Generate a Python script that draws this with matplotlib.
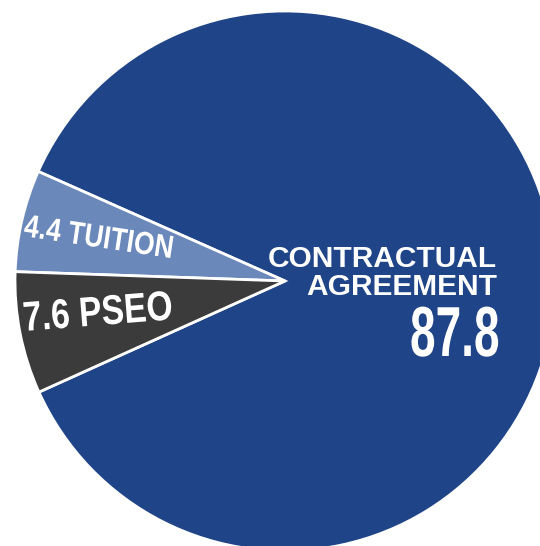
import matplotlib.pyplot as plt
from matplotlib import patheffects
from matplotlib.transforms import Affine2D

# wedge sizes as drawn in the picture (order: clockwise from start angle)
categories = ["CONTRACTUAL\nAGREEMENT", "TUITION", "PSEO"]
wedge_sizes = [86.6, 6.1, 7.3]
label_values = ["87.8", "4.4", "7.6"]
colors = ["#1f4488", "#6a88ba", "#3b3b3b"]


class Squeeze(patheffects.AbstractPathEffect):
    # reshape the glyphs (no condensed font installed)
    def __init__(self, sx, sy=1.0):
        super().__init__()
        self.sx = sx
        self.sy = sy

    def draw_path(self, renderer, gc, tpath, affine, rgbFace=None):
        renderer.draw_path(gc, tpath, Affine2D().scale(self.sx, self.sy) + affine, rgbFace)


fig = plt.figure(figsize=(5.4, 5.46), dpi=100)
ax = fig.add_axes([0, 0, 1, 1])

ax.pie(wedge_sizes, colors=colors, startangle=-204.3, counterclock=False,
       center=(285, 281), radius=270,
       wedgeprops=dict(edgecolor="white", linewidth=2), frame=True)
ax.set_xlim(0, 540)
ax.set_ylim(546, 0)
ax.set_aspect("equal")
ax.axis("off")

font = ["Liberation Sans", "DejaVu Sans"]
line1, line2 = categories[0].split("\n")
ax.text(497, 267, line1, color="white", fontsize=21.5, fontweight="bold",
        family=font, ha="right", va="baseline")
ax.text(497, 295, line2, color="white", fontsize=21.5, fontweight="bold",
        family=font, ha="right", va="baseline")
ax.text(410, 356, label_values[0], color="white", fontsize=44, fontweight="bold",
        family=font, ha="left", va="baseline",
        path_effects=[Squeeze(0.753, 1.159)])
ax.text(23, 236, label_values[1] + " " + categories[1], color="white", fontsize=22,
        fontweight="bold", family=font, ha="left", va="baseline",
        rotation=-8.5, rotation_mode="anchor", path_effects=[Squeeze(0.87, 1.05)])
ax.text(24, 331, label_values[2] + " " + categories[2], color="white", fontsize=30,
        fontweight="bold", family=font, ha="left", va="baseline",
        rotation=4.5, rotation_mode="anchor", path_effects=[Squeeze(0.81)])

fig.savefig("out.png", dpi=100)
